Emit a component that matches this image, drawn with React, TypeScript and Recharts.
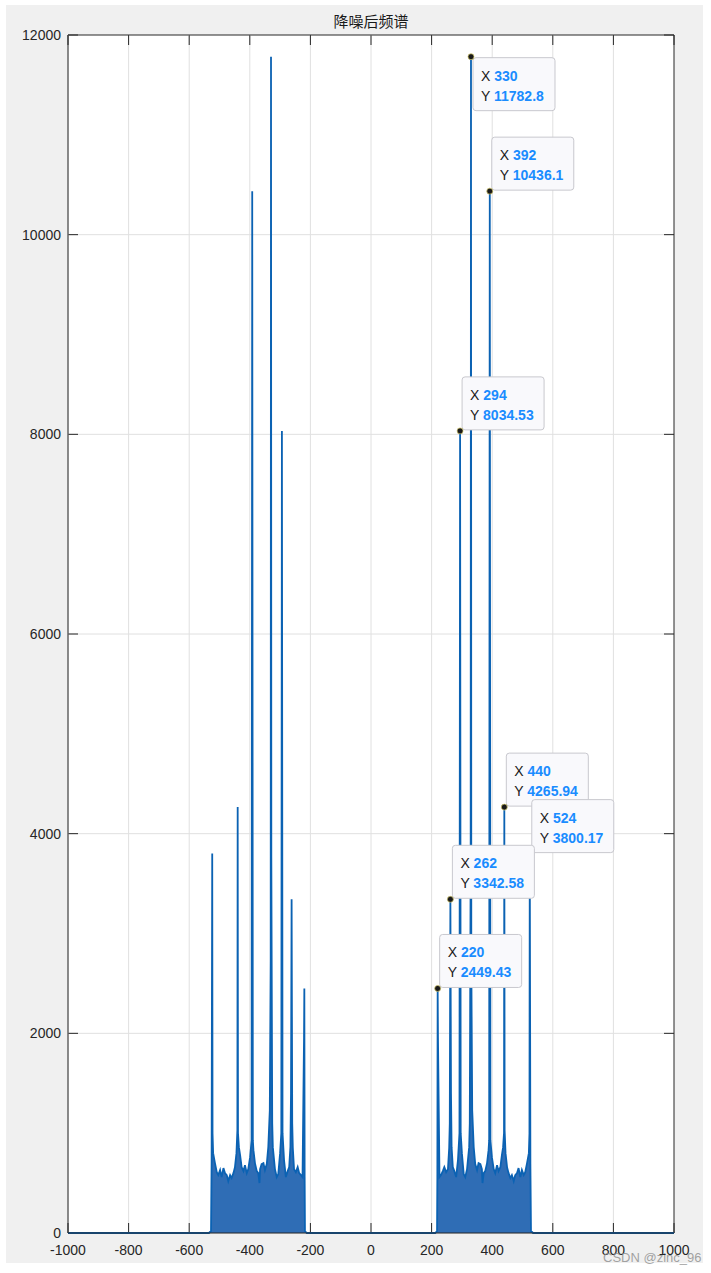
import { ComposedChart, Area, Scatter, XAxis, YAxis, CartesianGrid } from "recharts";

const X_TICKS = [-1000, -800, -600, -400, -200, 0, 200, 400, 600, 800, 1000];
const Y_TICKS = [0, 2000, 4000, 6000, 8000, 10000, 12000];

// 负频率频带（含尖峰）
const LEFT_FREQ = [
  -1000, -535, -528, -526, -525, -524, -523, -521, -515, -509, -504, -498, -493, -487, -482, -476,
  -471, -465, -460, -454, -449, -444, -441, -440, -439, -436, -432, -427, -421, -416, -410, -405,
  -399, -394, -392, -390, -388, -383, -377, -372, -368, -366, -361, -355, -350, -344, -339, -334, -331,
  -330, -329, -326, -324, -317, -311, -306, -300, -296, -294, -292, -287, -281, -275, -270, -266,
  -264, -262, -260, -258, -254, -248, -242, -237, -231, -226, -221, -220, -219, -218, -212,
];
const LEFT_MAG = [
  0, 0, 20, 700, 2285, 3800.17, 1000, 800, 700, 610, 580, 630, 560, 650, 600, 580,
  520, 580, 550, 600, 660, 800, 1030, 4265.94, 1000, 860, 780, 660, 620, 680, 600, 640,
  760, 930, 10436.1, 930, 830, 700, 620, 600, 500, 640, 690, 700, 630, 690, 860, 1230, 2750,
  11782.8, 3770, 1100, 860, 640, 560, 590, 800, 1000, 8034.53, 1000, 730, 560, 620, 660, 860,
  1400, 3342.58, 1100, 850, 640, 610, 660, 600, 580, 560, 1960, 2449.43, 560, 20, 0,
];

// 正频率频带（含尖峰）
const RIGHT_FREQ = [
  212, 218, 219, 220, 221, 226, 231, 237, 242, 248, 254, 258, 260, 262, 264, 266,
  270, 275, 281, 287, 292, 294, 296, 300, 306, 311, 317, 324, 326, 329, 330, 331,
  334, 339, 344, 350, 355, 361, 366, 368, 372, 377, 383, 388, 390, 392, 394, 399, 405,
  410, 416, 421, 427, 432, 436, 439, 440, 441, 444, 449, 454, 460, 465, 471, 476,
  482, 487, 493, 498, 504, 509, 515, 521, 523, 524, 525, 526, 528, 535, 1000,
];
const RIGHT_MAG = [
  0, 20, 560, 2449.43, 1960, 560, 580, 620, 660, 610, 640, 850, 1100, 3342.58, 1400, 860,
  660, 620, 560, 730, 1000, 8034.53, 1000, 800, 590, 560, 640, 860, 1100, 3770, 11782.8, 2750,
  1230, 860, 690, 630, 700, 690, 640, 500, 600, 620, 700, 830, 930, 10436.1, 930, 760, 640,
  600, 680, 620, 660, 780, 860, 1000, 4265.94, 1030, 800, 660, 600, 550, 580, 520, 580,
  600, 650, 560, 630, 580, 610, 700, 800, 1000, 3800.17, 2285, 700, 20, 0, 0,
];

// 数据提示
const TIP_FREQ = [330, 392, 294, 440, 524, 262, 220];
const TIP_MAG = [11782.8, 10436.1, 8034.53, 4265.94, 3800.17, 3342.58, 2449.43];
const TIP_X_TEXT = ["330", "392", "294", "440", "524", "262", "220"];
const TIP_Y_TEXT = ["11782.8", "10436.1", "8034.53", "4265.94", "3800.17", "3342.58", "2449.43"];

const spectrum = [
  ...LEFT_FREQ.map((f, i) => ({ f, m: LEFT_MAG[i] })),
  ...RIGHT_FREQ.map((f, i) => ({ f, m: RIGHT_MAG[i] })),
];

const tips = TIP_FREQ.map((f, i) => ({ f, m: TIP_MAG[i], xs: TIP_X_TEXT[i], ys: TIP_Y_TEXT[i] }));

const FONT = "'Liberation Sans', Arial, Helvetica, sans-serif";
const AXIS = "#262626";
const GRID = "#e0e0e0";
const TICK_LEN = 10;

const W = 711;
const H = 1273;
const MARGIN = { top: 35, right: 37, bottom: 10, left: 8 };
const PLOT_TOP = MARGIN.top;
const PLOT_RIGHT = W - MARGIN.right;

// 网格线 + 向内刻度（MATLAB 风格）
function VLine(p: any) {
  const top = Math.min(p.y1, p.y2);
  const bot = Math.max(p.y1, p.y2);
  const edge = p.x1 >= PLOT_RIGHT - 0.5;
  return (
    <g>
      <line x1={p.x1} y1={top} x2={p.x1} y2={bot} stroke={edge ? AXIS : GRID} />
      <line x1={p.x1} y1={top} x2={p.x1} y2={top + TICK_LEN} stroke={AXIS} />
      <line x1={p.x1} y1={bot} x2={p.x1} y2={bot - TICK_LEN} stroke={AXIS} />
    </g>
  );
}

function HLine(p: any) {
  const left = Math.min(p.x1, p.x2);
  const right = Math.max(p.x1, p.x2);
  const edge = p.y1 <= PLOT_TOP + 0.5;
  return (
    <g>
      <line x1={left} y1={p.y1} x2={right} y2={p.y1} stroke={edge ? AXIS : GRID} />
      <line x1={left} y1={p.y1} x2={left + TICK_LEN} y2={p.y1} stroke={AXIS} />
      <line x1={right} y1={p.y1} x2={right - TICK_LEN} y2={p.y1} stroke={AXIS} />
    </g>
  );
}

function DataTip(props: any) {
  const { cx, cy, payload } = props;
  const w = 82;
  const h = 53;
  const below = cy < 100;
  const bx = cx + 2;
  const by = below ? cy + 1 : cy - 1 - h;
  return (
    <g>
      <rect x={bx} y={by} width={w} height={h} rx={3} fill="#f9f9fc" stroke="#c8c8ce" strokeWidth={1} />
      <text x={bx + 8} y={by + 23} fontSize={14} fontFamily={FONT}>
        <tspan fill="#1a1a1a">X </tspan>
        <tspan fill="#1a8cff" fontWeight="bold">{payload.xs}</tspan>
      </text>
      <text x={bx + 8} y={by + 43} fontSize={14} fontFamily={FONT}>
        <tspan fill="#1a1a1a">Y </tspan>
        <tspan fill="#1a8cff" fontWeight="bold">{payload.ys}</tspan>
      </text>
      <circle cx={cx} cy={cy} r={3} fill="#1a1a1a" stroke="#d6ca6a" strokeWidth={0.7} />
    </g>
  );
}

export default function App() {
  return (
    <div style={{ position: "absolute", left: 0, top: 0, width: W, height: H, background: "#fff" }}>
      <div style={{ position: "absolute", left: 6, top: 5, width: 697, height: 1258, background: "#f0f0f0" }} />
      <div
        style={{
          position: "absolute",
          left: 271,
          top: 13,
          width: 200,
          textAlign: "center",
          fontSize: 15,
          lineHeight: "15px",
          fontFamily: "'Noto Sans CJK SC', sans-serif",
          color: "#1a1a1a",
        }}
      >
        降噪后频谱
      </div>
      <div style={{ position: "absolute", left: 0, top: 0 }}>
        <ComposedChart width={W} height={H} data={spectrum} margin={MARGIN}>
          <CartesianGrid fill="#ffffff" vertical={VLine} horizontal={HLine} />
          <XAxis
            dataKey="f"
            type="number"
            domain={[-1000, 1000]}
            ticks={X_TICKS}
            height={30}
            tickLine={false}
            tickSize={0}
            tickMargin={12}
            axisLine={{ stroke: AXIS }}
            tick={{ fill: "#262626", fontSize: 14, fontFamily: FONT }}
          />
          <YAxis
            type="number"
            domain={[0, 12000]}
            ticks={Y_TICKS}
            width={60}
            tickLine={false}
            tickSize={0}
            tickMargin={7}
            axisLine={{ stroke: AXIS }}
            tick={{ fill: "#262626", fontSize: 14, fontFamily: FONT }}
          />
          <Area
            type="linear"
            dataKey="m"
            stroke="#0b62b3"
            strokeWidth={1.8}
            fill="#2f6db5"
            fillOpacity={1}
            dot={false}
            activeDot={false}
            isAnimationActive={false}
          />
          <Scatter data={tips} dataKey="m" shape={DataTip} isAnimationActive={false} />
        </ComposedChart>
      </div>
      <div
        style={{
          position: "absolute",
          left: 603,
          top: 1250,
          fontSize: 13,
          lineHeight: "15px",
          fontFamily: FONT,
          color: "rgba(140,140,140,0.8)",
          whiteSpace: "nowrap",
        }}
      >
        CSDN @zinc_96
      </div>
    </div>
  );
}
